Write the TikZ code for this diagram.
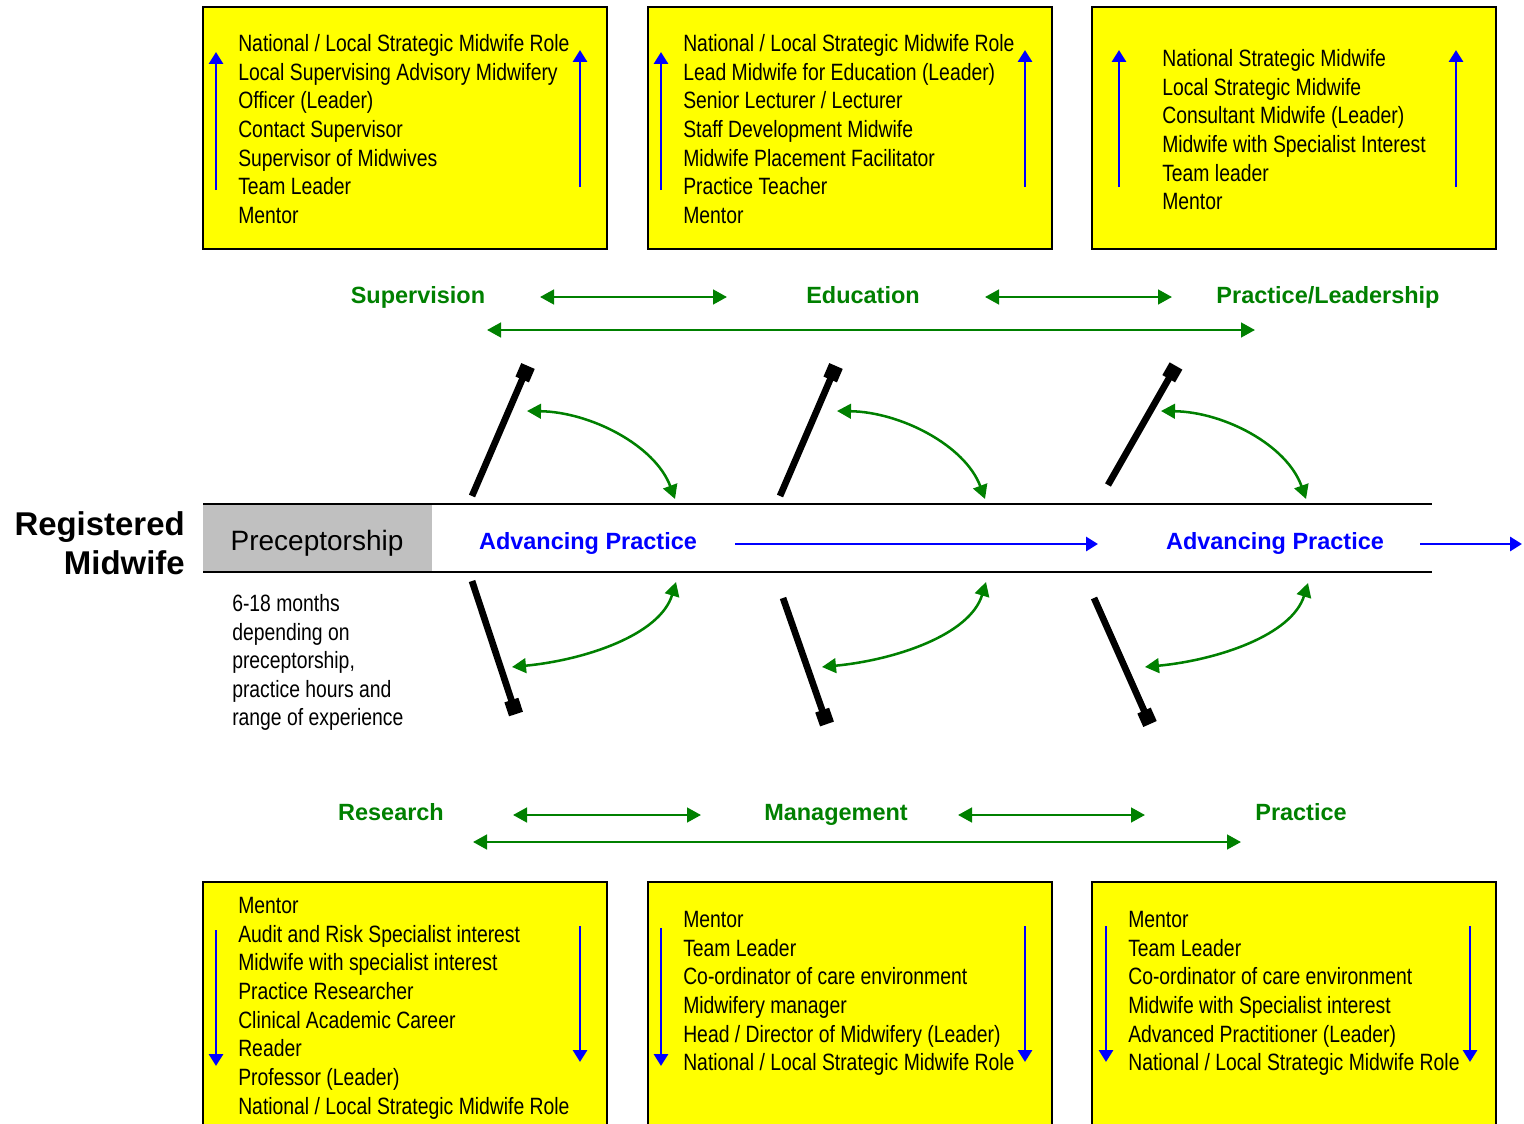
\documentclass[tikz,border=0pt]{standalone}
\usepackage{fontspec}
\setmainfont{Liberation Sans}
\newfontfamily\narrowfont[FakeStretch=0.82]{Liberation Sans}
\usetikzlibrary{arrows.meta}
\definecolor{gr}{HTML}{008000}
\definecolor{bl}{HTML}{0000FF}
\definecolor{ye}{HTML}{FFFF00}
\definecolor{gy}{HTML}{C0C0C0}

\tikzset{
  rolebox/.style={draw=black, line width=1.5pt, fill=ye},
  roletext/.style={anchor=base west, inner sep=0pt, font=\narrowfont\fontsize{17.7}{21}\selectfont},
  strand/.style={anchor=base, inner sep=0pt, text=gr, font=\bfseries\fontsize{17.6}{21}\selectfont},
  advlabel/.style={anchor=base, inner sep=0pt, text=bl, font=\bfseries\fontsize{17.6}{21}\selectfont},
  greenarrow/.style={draw=gr, line width=1.9pt, {Triangle[length=10.5pt,width=11pt]}-{Triangle[length=10.5pt,width=11pt]}},
  bluearrow/.style={draw=bl, line width=2.2pt, -{Triangle[length=9pt,width=10.5pt]}},
  bone/.style={line width=5pt, -{Square[length=11pt,width=11pt]}},
}

\begin{document}
\begin{tikzpicture}[x=0.75pt, y=-0.75pt]
  \useasboundingbox (0,0) rectangle (1524,1124);
  \clip (0,0) rectangle (1524,1124);

  % role boxes, top row
  \draw[rolebox] (203,7) rectangle (607,249);
  \draw[rolebox] (648,7) rectangle (1052,249);
  \draw[rolebox] (1092,7) rectangle (1496,249);
  \foreach \role [count=\i from 0] in {National / Local Strategic Midwife Role, Local Supervising Advisory Midwifery, Officer (Leader), Contact Supervisor, Supervisor of Midwives, Team Leader, Mentor}
    \node[roletext] (sup\i) at (238,51.5+28.67*\i) {\role};
  \foreach \role [count=\i from 0] in {National / Local Strategic Midwife Role, Lead Midwife for Education (Leader), Senior Lecturer / Lecturer, Staff Development Midwife, Midwife Placement Facilitator, Practice Teacher, Mentor}
    \node[roletext] (edu\i) at (683,51.5+28.67*\i) {\role};
  \foreach \role [count=\i from 0] in {National Strategic Midwife, Local Strategic Midwife, Consultant Midwife (Leader), Midwife with Specialist Interest, Team leader, Mentor}
    \node[roletext] (pra\i) at (1162,66.5+28.67*\i) {\role};
  \draw[bluearrow] (216,190) -- (216,52);
  \draw[bluearrow] (580,187) -- (580,50);
  \draw[bluearrow] (661,190) -- (661,52);
  \draw[bluearrow] (1025,187) -- (1025,50);
  \draw[bluearrow] (1119,187) -- (1119,50);
  \draw[bluearrow] (1456,187) -- (1456,50);

  % role boxes, bottom row
  \draw[rolebox] (203,882) rectangle (607,1135);
  \draw[rolebox] (648,882) rectangle (1052,1135);
  \draw[rolebox] (1092,882) rectangle (1496,1135);
  \foreach \role [count=\i from 0] in {Mentor, Audit and Risk Specialist interest, Midwife with specialist interest, Practice Researcher, Clinical Academic Career, Reader, Professor (Leader), National / Local Strategic Midwife Role}
    \node[roletext] (res\i) at (238,913.5+28.67*\i) {\role};
  \foreach \role [count=\i from 0] in {Mentor, Team Leader, Co-ordinator of care environment, Midwifery manager, Head / Director of Midwifery (Leader), National / Local Strategic Midwife Role}
    \node[roletext] (man\i) at (683,927.5+28.67*\i) {\role};
  \foreach \role [count=\i from 0] in {Mentor, Team Leader, Co-ordinator of care environment, Midwife with Specialist interest, Advanced Practitioner (Leader), National / Local Strategic Midwife Role}
    \node[roletext] (prb\i) at (1128,927.5+28.67*\i) {\role};
  \draw[bluearrow] (216,930) -- (216,1066);
  \draw[bluearrow] (580,926) -- (580,1062);
  \draw[bluearrow] (661,928) -- (661,1066);
  \draw[bluearrow] (1025,926) -- (1025,1062);
  \draw[bluearrow] (1106,926) -- (1106,1062);
  \draw[bluearrow] (1470,926) -- (1470,1062);

  % strands
  \node[strand] (supervision) at (418,303.5) {Supervision};
  \node[strand] (education) at (863,303.5) {Education};
  \node[strand] (leadership) at (1328,303.5) {Practice/Leadership};
  \node[strand] (research) at (391,820.5) {Research};
  \node[strand] (management) at (836,820.5) {Management};
  \node[strand] (practice) at (1301,820.5) {Practice};
  \coordinate (t1a) at (540,297);  \coordinate (t1b) at (727,297);
  \coordinate (t2a) at (985,297);  \coordinate (t2b) at (1172,297);
  \coordinate (t3a) at (487,330);  \coordinate (t3b) at (1255,330);
  \coordinate (b1a) at (513,815);  \coordinate (b1b) at (701,815);
  \coordinate (b2a) at (958,815);  \coordinate (b2b) at (1145,815);
  \coordinate (b3a) at (473,842);  \coordinate (b3b) at (1241,842);
  \draw[greenarrow] (t1a) -- (t1b);
  \draw[greenarrow] (t2a) -- (t2b);
  \draw[greenarrow] (t3a) -- (t3b);
  \draw[greenarrow] (b1a) -- (b1b);
  \draw[greenarrow] (b2a) -- (b2b);
  \draw[greenarrow] (b3a) -- (b3b);

  % spine
  \fill[gy] (203,505) rectangle (432,571);
  \draw[line width=1.5pt] (203,504) -- (1432,504);
  \draw[line width=1.5pt] (203,572) -- (1432,572);
  \node[inner sep=0pt, anchor=base, font=\fontsize{21}{25}\selectfont] (precep) at (317,550) {Preceptorship};
  \node[inner sep=0pt, anchor=base east, font=\bfseries\fontsize{24.7}{29}\selectfont] (reg) at (185,535) {Registered};
  \node[inner sep=0pt, anchor=base east, font=\bfseries\fontsize{24.7}{29}\selectfont] (mid) at (185,574) {Midwife};
  \node[advlabel] (adv1) at (588,549.5) {Advancing Practice};
  \node[advlabel] (adv2) at (1275,549.5) {Advancing Practice};
  \coordinate (s1a) at (735,544);  \coordinate (s1b) at (1098,544);
  \coordinate (s2a) at (1420,544); \coordinate (s2b) at (1522,544);
  \draw[bluearrow] (s1a) -- (s1b);
  \draw[bluearrow] (s2a) -- (s2b);
  \foreach \line [count=\i from 0] in {6-18 months, depending on, {preceptorship,}, practice hours and, range of experience}
    \node[roletext] (dur\i) at (232,611.5+28.6*\i) {\line};

  % bones
  \draw[bone] (472,496) -- (528,366);
  \draw[bone] (780,496) -- (836,366);
  \draw[bone] (1108,485) -- (1176,366);
  \draw[bone] (472,581) -- (516,714);
  \draw[bone] (783,598) -- (827,724);
  \draw[bone] (1094,598) -- (1150,724);

  % swing arrows
  \draw[greenarrow] (527,411) .. controls (590,412) and (655,445) .. (675,499);
  \draw[greenarrow] (837,411) .. controls (900,412) and (965,445) .. (985,499);
  \draw[greenarrow] (1161,411) .. controls (1224,412) and (1287,445) .. (1306,499);
  \draw[greenarrow] (512,667) .. controls (585,660) and (660,635) .. (676,582);
  \draw[greenarrow] (822,667) .. controls (895,660) and (970,635) .. (986,582);
  \draw[greenarrow] (1145,667) .. controls (1218,660) and (1292,635) .. (1308,583);
\end{tikzpicture}
\end{document}
